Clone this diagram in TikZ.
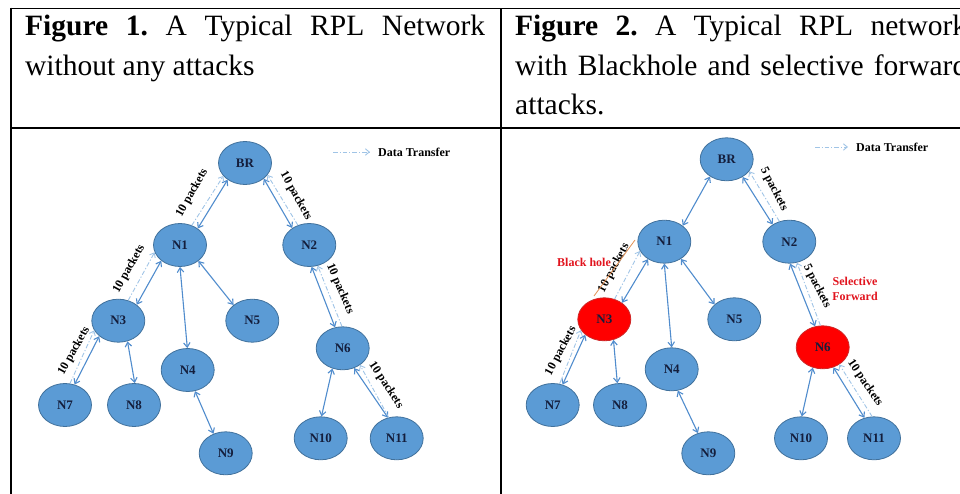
\documentclass[tikz,border=0pt]{standalone}
\usepackage{fontspec}
\setmainfont{Liberation Serif}
\usetikzlibrary{shapes.geometric,arrows.meta}
\frenchspacing

\definecolor{nodefill}{RGB}{91,155,213}
\definecolor{nodeedge}{RGB}{65,113,156}
\definecolor{attackfill}{RGB}{255,0,0}
\definecolor{attackedge}{RGB}{205,40,40}
\definecolor{labelnavy}{RGB}{20,30,60}
\definecolor{linkblue}{RGB}{80,140,205}
\definecolor{flowblue}{RGB}{160,196,230}
\definecolor{alertred}{RGB}{225,20,30}
\definecolor{cutorange}{RGB}{225,145,85}

\tikzset{
  mote/.style={ellipse, draw=nodeedge, line width=0.8pt, fill=nodefill,
    minimum width=53pt, minimum height=43pt, inner sep=0pt,
    font=\fontsize{13}{13}\selectfont\bfseries, text=labelnavy},
  rogue/.style={mote, fill=attackfill, draw=attackedge},
  biarrow/.style={draw=linkblue, line width=1.1pt,
    {Straight Barb[length=4.5pt,width=6.5pt]}-{Straight Barb[length=4.5pt,width=6.5pt]}},
  flow/.style={draw=flowblue, line width=0.9pt,
    dash pattern=on 4.5pt off 2pt on 1.2pt off 2pt,
    -{Straight Barb[length=4pt,width=6.5pt]}},
  pkt/.style={font=\fontsize{12}{12}\selectfont\bfseries, inner sep=0pt},
  legendtext/.style={font=\fontsize{12}{12}\selectfont\bfseries, inner sep=0pt, anchor=west},
  alert/.style={font=\fontsize{12}{15}\selectfont\bfseries, text=alertred,
    inner sep=0pt, align=center},
  caption/.style={anchor=base west, inner sep=0pt,
    font=\fontsize{29.5}{39.5}\selectfont},
  rule/.style={line width=1.8pt},
}

\begin{document}
\begin{tikzpicture}[x=1pt,y=-1pt]
\useasboundingbox (0,0) rectangle (960,494);

% table rules
\draw[rule] (10,8.5) -- (960,8.5);
\draw[rule] (10,128) -- (960,128);
\draw[rule] (11,7.6) -- (11,494);
\draw[line width=1.1pt] (501,8.5) -- (501,128);
\draw[line width=1.6pt] (501,128) -- (501,494);

% captions
\node[caption] (capLa) at (25,36) {\makebox[460pt][s]{\textbf{Figure 1.} A Typical RPL Network}};
\node[caption] (capLb) at (25,75.5) {without any attacks};
\node[caption] (capRa) at (515,36) {\makebox[452pt][s]{\textbf{Figure 2.} A Typical RPL network}};
\node[caption] (capRb) at (515,75.5) {\makebox[452pt][s]{with Blackhole and selective forward}};
\node[caption] (capRc) at (515,115) {attacks.};

% ---------- network without attacks ----------
\node[mote] (BRa)  at (245,163)   {BR};
\node[mote] (N1a)  at (180,245)   {N1};
\node[mote] (N2a)  at (309.3,245) {N2};
\node[mote] (N3a)  at (118.3,320.7) {N3};
\node[mote] (N5a)  at (252.3,320.7) {N5};
\node[mote] (N4a)  at (187.7,370) {N4};
\node[mote] (N6a)  at (342.7,348.3) {N6};
\node[mote] (N7a)  at (65,405)    {N7};
\node[mote] (N8a)  at (134,405)   {N8};
\node[mote] (N9a)  at (225.7,453.3) {N9};
\node[mote] (N10a) at (320.7,438.3) {N10};
\node[mote] (N11a) at (396.7,438.3) {N11};

\draw[biarrow] (N1a.43) -- (BRa.224);
\draw[flow] (N1a.59) -- (BRa.211);
\node[pkt, rotate=61] (pA1) at (192,193) {10 packets};

\draw[biarrow] (BRa.320) -- (N2a.135);
\draw[flow] (N2a.120) -- (BRa.332);
\node[pkt, rotate=-61] (pA2) at (296,196) {10 packets};

\draw[biarrow] (N3a.41) -- (N1a.220);
\draw[flow] (N3a.64) -- (N1a.196);
\node[pkt, rotate=61] (pA3) at (129,269) {10 packets};

\draw[biarrow] (N7a.65) -- (N3a.219);
\draw[flow] (N7a.77) -- (N3a.202);
\node[pkt, rotate=61] (pA4) at (74,351) {10 packets};

\draw[biarrow] (N3a.294) -- (N8a.88);
\draw[biarrow] (N1a.270) -- (N4a.91);
\draw[biarrow] (N1a.319) -- (N5a.140);
\draw[biarrow] (N4a.289) -- (N9a.122);

\draw[biarrow] (N2a.276) -- (N6a.110);
\draw[flow] (N6a.92) -- (N2a.292);
\node[pkt, rotate=-67] (pA5) at (340,289) {10 packets};

\draw[biarrow] (N6a.243) -- (N10a.88);
\draw[biarrow] (N6a.300) -- (N11a.113);
\draw[flow] (N11a.111) -- (N6a.316);
\node[pkt, rotate=-57] (pA6) at (386,385) {10 packets};

\coordinate (lgAs) at (333,152);
\node[legendtext] (lgA) at (378,152) {Data Transfer};
\draw[flow] (lgAs) -- ([xshift=-8pt]lgA.west);

% ---------- network with blackhole and selective forwarding ----------
\node[mote]  (BRb)  at (726.7,159.3) {BR};
\node[mote]  (N1b)  at (664.3,241.7) {N1};
\node[mote]  (N2b)  at (789.3,241.7) {N2};
\node[rogue] (N3b)  at (604.3,319.3) {N3};
\node[mote]  (N5b)  at (734.3,319.3) {N5};
\node[mote]  (N4b)  at (671.7,369.3) {N4};
\node[rogue] (N6b)  at (822.7,347.3) {N6};
\node[mote]  (N7b)  at (552.7,405)   {N7};
\node[mote]  (N8b)  at (620,405)     {N8};
\node[mote]  (N9b)  at (708.3,453.3) {N9};
\node[mote]  (N10b) at (801,438.3)   {N10};
\node[mote]  (N11b) at (874,438.3)   {N11};

\draw[biarrow] (BRb.226) -- (N1b.41);

\draw[biarrow] (BRb.312) -- (N2b.134);
\draw[flow] (N2b.116) -- (BRb.332);
\node[pkt, rotate=-63] (pB1) at (774,189) {5 packets};

\draw[biarrow] (N3b.43) -- (N1b.227);
\draw[flow] (N3b.63) -- (N1b.201);
\node[pkt, rotate=62] (pB2) at (614,268) {10 packets};
\draw[cutorange, line width=0.8pt] (594,296) -- (635,240);

\draw[biarrow] (N7b.64) -- (N3b.219);
\draw[flow] (N7b.72) -- (N3b.205);
\node[pkt, rotate=62] (pB3) at (561,351) {10 packets};

\draw[biarrow] (N3b.294) -- (N8b.97);
\draw[biarrow] (N1b.270) -- (N4b.90);
\draw[biarrow] (N1b.314) -- (N5b.143);
\draw[biarrow] (N4b.286) -- (N9b.117);

\draw[biarrow] (N2b.272) -- (N6b.110);
\draw[flow] (N6b.96) -- (N2b.290);
\node[pkt, rotate=-63] (pB4) at (817,286) {5 packets};

\draw[biarrow] (N6b.244) -- (N10b.88);
\draw[biarrow] (N6b.298) -- (N11b.115);
\draw[flow] (N11b.95) -- (N6b.314);
\node[pkt, rotate=-56] (pB5) at (865,383) {10 packets};

\node[alert] (bh) at (584,262) {Black hole};
\node[alert] (sf) at (855,289) {Selective\\Forward};

\coordinate (lgBs) at (815,147);
\node[legendtext] (lgB) at (856,147) {Data Transfer};
\draw[flow] (lgBs) -- ([xshift=-8pt]lgB.west);
\end{tikzpicture}
\end{document}
